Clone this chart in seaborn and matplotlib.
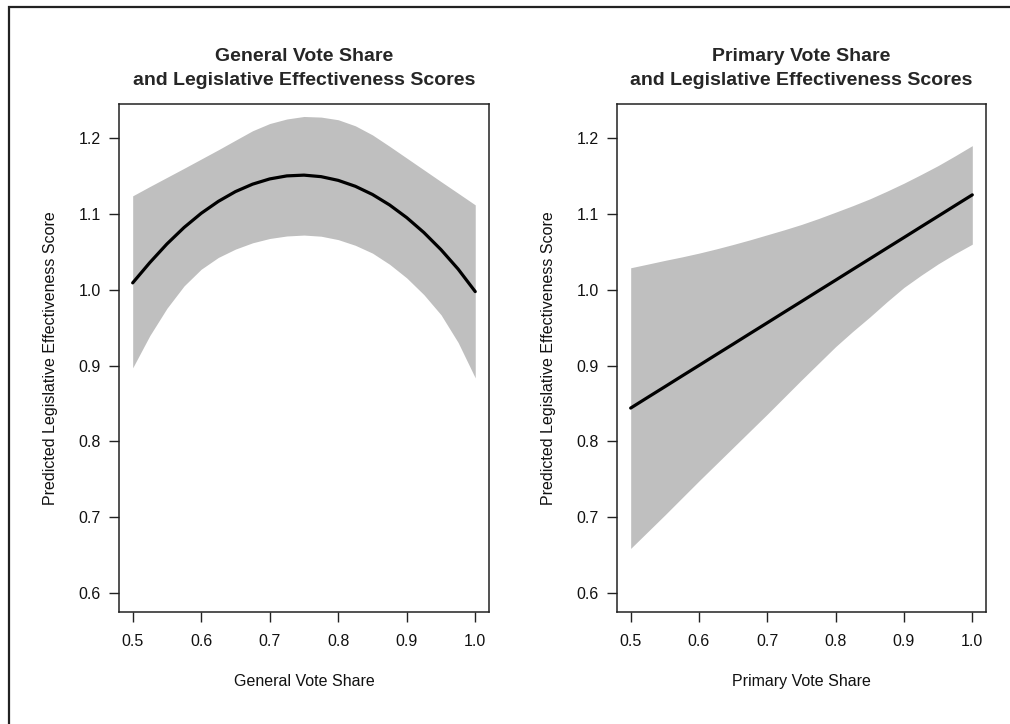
import matplotlib
matplotlib.use("Agg")

import numpy as np
import pandas as pd
import matplotlib.pyplot as plt
import matplotlib.patches as patches
import seaborn as sns


# values
vote_share = [0.500, 0.525, 0.550, 0.575, 0.600, 0.625, 0.650, 0.675, 0.700, 0.725, 0.750,
              0.775, 0.800, 0.825, 0.850, 0.875, 0.900, 0.925, 0.950, 0.975, 1.000]

general_fit = [1.0090, 1.0357, 1.0603, 1.0820, 1.1007, 1.1164, 1.1293, 1.1391, 1.1460, 1.1500, 1.1510,
               1.1490, 1.1441, 1.1363, 1.1255, 1.1117, 1.0950, 1.0754, 1.0528, 1.0272, 0.9975]
general_upper = [1.1237, 1.1360, 1.1480, 1.1600, 1.1722, 1.1844, 1.1970, 1.2095, 1.2190, 1.2250, 1.2283,
                 1.2275, 1.2240, 1.2160, 1.2040, 1.1890, 1.1735, 1.1580, 1.1425, 1.1272, 1.1118]
general_lower = [0.8970, 0.9395, 0.9755, 1.0050, 1.0270, 1.0425, 1.0535, 1.0618, 1.0675, 1.0708, 1.0720,
                 1.0705, 1.0660, 1.0585, 1.0482, 1.0335, 1.0155, 0.9935, 0.9670, 0.9305, 0.8838]

primary_fit = [0.8440, 0.8581, 0.8721, 0.8862, 0.9002, 0.9143, 0.9283, 0.9424, 0.9564, 0.9705, 0.9845,
               0.9986, 1.0126, 1.0267, 1.0407, 1.0548, 1.0688, 1.0829, 1.0969, 1.1110, 1.1250]
primary_upper = [1.0289, 1.0337, 1.0386, 1.0432, 1.0482, 1.0537, 1.0596, 1.0658, 1.0724, 1.0790, 1.0860,
                 1.0938, 1.1022, 1.1107, 1.1197, 1.1298, 1.1404, 1.1518, 1.1636, 1.1765, 1.1899]
primary_lower = [0.659, 0.681, 0.703, 0.7255, 0.748, 0.770, 0.792, 0.814, 0.836, 0.8585, 0.881,
                 0.903, 0.925, 0.945, 0.964, 0.984, 1.003, 1.019, 1.034, 1.0475, 1.060]

x_ticks = [0.5, 0.6, 0.7, 0.8, 0.9, 1.0]
y_ticks = [0.6, 0.7, 0.8, 0.9, 1.0, 1.1, 1.2]

panels = [
    ("General Vote Share\nand Legislative Effectiveness Scores", "General Vote Share",
     general_fit, general_upper, general_lower),
    ("Primary Vote Share\nand Legislative Effectiveness Scores", "Primary Vote Share",
     primary_fit, primary_upper, primary_lower),
]

sns.set_style("ticks")
plt.rcParams["font.family"] = ["Liberation Sans", "DejaVu Sans"]

fig = plt.figure(figsize=(10.1, 7.24), dpi=100)
fig.patch.set_facecolor("white")

axes_pos = [
    [0.1178, 0.1547, 0.3663, 0.7017],
    [0.6109, 0.1547, 0.3653, 0.7017],
]

for pos, (title, xlabel, fit, upper, lower) in zip(axes_pos, panels):
    ax = fig.add_axes(pos)

    df = pd.DataFrame({"x": vote_share, "fit": fit, "upper": upper, "lower": lower})

    ax.fill_between(df["x"], df["lower"], df["upper"], color="#bfbfbf", lw=0)
    sns.lineplot(data=df, x="x", y="fit", color="black", lw=2.3, ax=ax)

    ax.set_xlim(0.48, 1.02)
    ax.set_ylim(0.5752, 1.2448)
    ax.set_xticks(x_ticks)
    ax.set_yticks(y_ticks)
    ax.set_xticklabels([f"{t:.1f}" for t in x_ticks])
    ax.set_yticklabels([f"{t:.1f}" for t in y_ticks])

    ax.tick_params(axis="both", direction="out", length=7.2, width=1,
                   color="#222222", labelsize=11.5, labelcolor="#111111")
    ax.tick_params(axis="x", pad=9)
    ax.tick_params(axis="y", pad=6)

    for side in ["left", "right", "top", "bottom"]:
        ax.spines[side].set_visible(True)
        ax.spines[side].set_color("#222222")
        ax.spines[side].set_linewidth(1.1)

    ax.set_title(title, fontsize=14, fontweight="bold", pad=13.5, linespacing=1.55)
    ax.set_xlabel(xlabel, fontsize=11.5, color="#111111")
    ax.set_ylabel("Predicted Legislative Effectiveness Score", fontsize=11.5, color="#111111")
    ax.xaxis.set_label_coords(0.5, -0.122)
    ax.yaxis.set_label_coords(-0.165, 0.5)

# outer frame of the figure (left and top edges visible)
frame = patches.Rectangle((0.0089, -0.05), 1.2, 0.9903 + 0.05,
                          transform=fig.transFigure, fill=False,
                          edgecolor="#222222", lw=1.6)
fig.add_artist(frame)

fig.savefig("out.png", dpi=100, facecolor="white")
